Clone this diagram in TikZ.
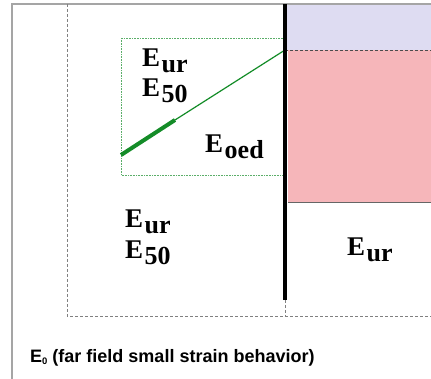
\documentclass[tikz,border=0pt]{standalone}
\usepackage{fontspec}
\setmainfont{Liberation Serif}
\newfontfamily\labelfont{Liberation Sans}
\usetikzlibrary{positioning}

\definecolor{framegray}{RGB}{165,165,165}
\definecolor{soilgreen}{RGB}{20,140,40}
\definecolor{topblue}{RGB}{222,220,242}
\definecolor{zonered}{RGB}{246,182,186}

\newcommand{\modulus}[1]{\textbf{E\hspace{1.5pt}\raisebox{-5.5pt}{\fontsize{26}{26}\selectfont #1}}}

\tikzset{
  modlabel/.style={anchor=base west,inner sep=0pt,font=\fontsize{27}{27}\selectfont},
  zoneline/.style={densely dashed,gray,line width=0.6pt},
  greenbox/.style={densely dotted,soilgreen!70,line width=0.6pt}
}

\begin{document}
\begin{tikzpicture}[x=1pt,y=-1pt]
    \useasboundingbox (0,0) rectangle (431,379);
    % coloured zones right of the wall
    \fill[topblue] (285,4) rectangle (431,50);
    \fill[zonered] (288,50) rectangle (431,203);
    \draw[zoneline,black!70] (285,50) -- (431,50);
    \draw[black!60,line width=1pt] (288,203) -- (431,203);
    % frame
    \draw[framegray,line width=1.8pt] (12,379) -- (12,4) -- (431,4);
    \draw[zoneline] (67,4) -- (67,316) -- (431,316);
    \draw[zoneline] (285,300) -- (285,316);
    % green zone
    \draw[greenbox] (121,38) rectangle (285,175);
    \coordinate (toe) at (121,155);
    \coordinate (knee) at (175,120);
    \coordinate (head) at (285,50);
    \draw[soilgreen,line width=1.2pt] (knee) -- (head);
    \draw[soilgreen,line width=4pt] (toe) -- (knee);
    % wall
    \draw[line width=4.5pt] (285,4) -- (285,300);
    % labels
    \node (ur1) [modlabel] at (142,67) {\modulus{ur}};
    \node (fifty1) [modlabel] at (142,97) {\modulus{50}};
    \node (oed) [modlabel] at (205,153) {\modulus{oed}};
    \node (ur2) [modlabel] at (125,228) {\modulus{ur}};
    \node (fifty2) [modlabel] at (125,259) {\modulus{50}};
    \node (ur3) [modlabel] at (347,256) {\modulus{ur}};
    \node (farfield) [anchor=base west,inner sep=0pt,font=\labelfont\bfseries\fontsize{18}{18}\selectfont] at (30,362)
      {E\raisebox{-2.5pt}{\fontsize{9.5}{9.5}\selectfont 0} (far field small strain behavior)};
\end{tikzpicture}
\end{document}
